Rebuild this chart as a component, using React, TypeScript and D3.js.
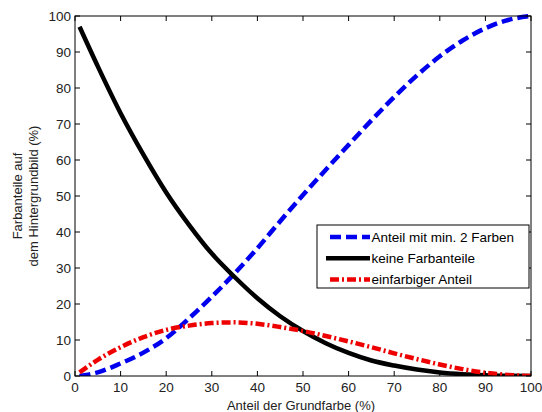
import React from "react";
import * as d3 from "d3";

const xValues = [1, 5, 10, 15, 20, 25, 30, 35, 40, 45, 50, 55, 60, 65, 70, 75, 80, 85, 90, 95, 100];
const blueValues = [0, 1, 3.5, 6.5, 10.5, 16, 22, 28.5, 35.5, 43, 50.3, 57.3, 64.2, 71, 77.5, 83.5, 88.8, 93.2, 96.6, 98.9, 100];
const blackValues = [97, 86, 73, 61.5, 51, 42, 34, 27.5, 21.6, 16.6, 12.5, 9.1, 6.4, 4.3, 2.9, 1.8, 1, 0.5, 0.2, 0.05, 0];
const redValues = [1, 4.5, 8, 10.8, 12.8, 14, 14.7, 14.9, 14.5, 13.6, 12.5, 11.1, 9.6, 8, 6.3, 4.7, 3.2, 1.9, 0.9, 0.3, 0];
const xTicks = [0, 10, 20, 30, 40, 50, 60, 70, 80, 90, 100];
const yTicks = [0, 10, 20, 30, 40, 50, 60, 70, 80, 90, 100];
const legendLabels = ["Anteil mit min. 2 Farben", "keine Farbanteile", "einfarbiger Anteil"];

const W = 542, H = 412;
const L = 75, R = 531, T = 16, B = 376;
const FONT = "'Liberation Sans', Arial, sans-serif";

export default function App() {
  const x = d3.scaleLinear().domain([0, 100]).range([L, R]);
  const y = d3.scaleLinear().domain([0, 100]).range([B, T]);
  const line = d3
    .line<number>()
    .x((_, i) => x(xValues[i]))
    .y((d) => y(d))
    .curve(d3.curveMonotoneX);

  const series = [
    { vals: blueValues, color: "#0000ee", dash: "11,5" },
    { vals: blackValues, color: "#000000", dash: "none" },
    { vals: redValues, color: "#ee0000", dash: "9,3,2,3" },
  ];

  const tickLen = 5;

  return (
    <svg width={W} height={H} style={{ position: "absolute", left: 0, top: 0, background: "#fff" }}>
      <rect x={0} y={0} width={W} height={H} fill="#fff" />
      <defs>
        <clipPath id="plotclip">
          <rect x={L} y={T - 3} width={R - L} height={B - T + 3} />
        </clipPath>
      </defs>
      <g clipPath="url(#plotclip)">
        {series.map((s, i) => (
          <path
            key={i}
            d={line(s.vals) || ""}
            fill="none"
            stroke={s.color}
            strokeWidth={4.5}
            strokeDasharray={s.dash}
            strokeLinecap="butt"
          />
        ))}
      </g>
      <rect x={L} y={T} width={R - L} height={B - T} fill="none" stroke="#000" strokeWidth={1} />
      {xTicks.map((t) => (
        <g key={"x" + t}>
          <line x1={x(t)} x2={x(t)} y1={B} y2={B - tickLen} stroke="#000" />
          <line x1={x(t)} x2={x(t)} y1={T} y2={T + tickLen} stroke="#000" />
          <text x={x(t)} y={392} textAnchor="middle" fontFamily={FONT} fontSize={13.5} fill="#222">
            {t}
          </text>
        </g>
      ))}
      {yTicks.map((t) => (
        <g key={"y" + t}>
          <line x1={L} x2={L + tickLen} y1={y(t)} y2={y(t)} stroke="#000" />
          <line x1={R} x2={R - tickLen} y1={y(t)} y2={y(t)} stroke="#000" />
          <text x={71} y={y(t) + 5} textAnchor="end" fontFamily={FONT} fontSize={13.5} fill="#222">
            {t}
          </text>
        </g>
      ))}
      <text x={301} y={409.5} textAnchor="middle" fontFamily={FONT} fontSize={13} fill="#222">
        Anteil der Grundfarbe (%)
      </text>
      <g transform="translate(22,196) rotate(-90)">
        <text x={0} y={0} textAnchor="middle" fontFamily={FONT} fontSize={13} fill="#222">
          Farbanteile auf
        </text>
        <text x={0} y={15.5} textAnchor="middle" fontFamily={FONT} fontSize={13} fill="#222">
          dem Hintergrundbild (%)
        </text>
      </g>
      <rect x={317} y={225} width={212} height={63} fill="#fff" stroke="#000" strokeWidth={1} />
      {series.map((s, i) => {
        const cy = 237 + i * 21.2;
        return (
          <g key={"lg" + i}>
            <line
              x1={s.dash === "none" ? 326 : 330}
              x2={370}
              y1={cy}
              y2={cy}
              stroke={s.color}
              strokeWidth={4.5}
              strokeDasharray={s.dash}
            />
            <text x={371.5} y={cy + 5} fontFamily={FONT} fontSize={13.5} fill="#000">
              {legendLabels[i]}
            </text>
          </g>
        );
      })}
    </svg>
  );
}
